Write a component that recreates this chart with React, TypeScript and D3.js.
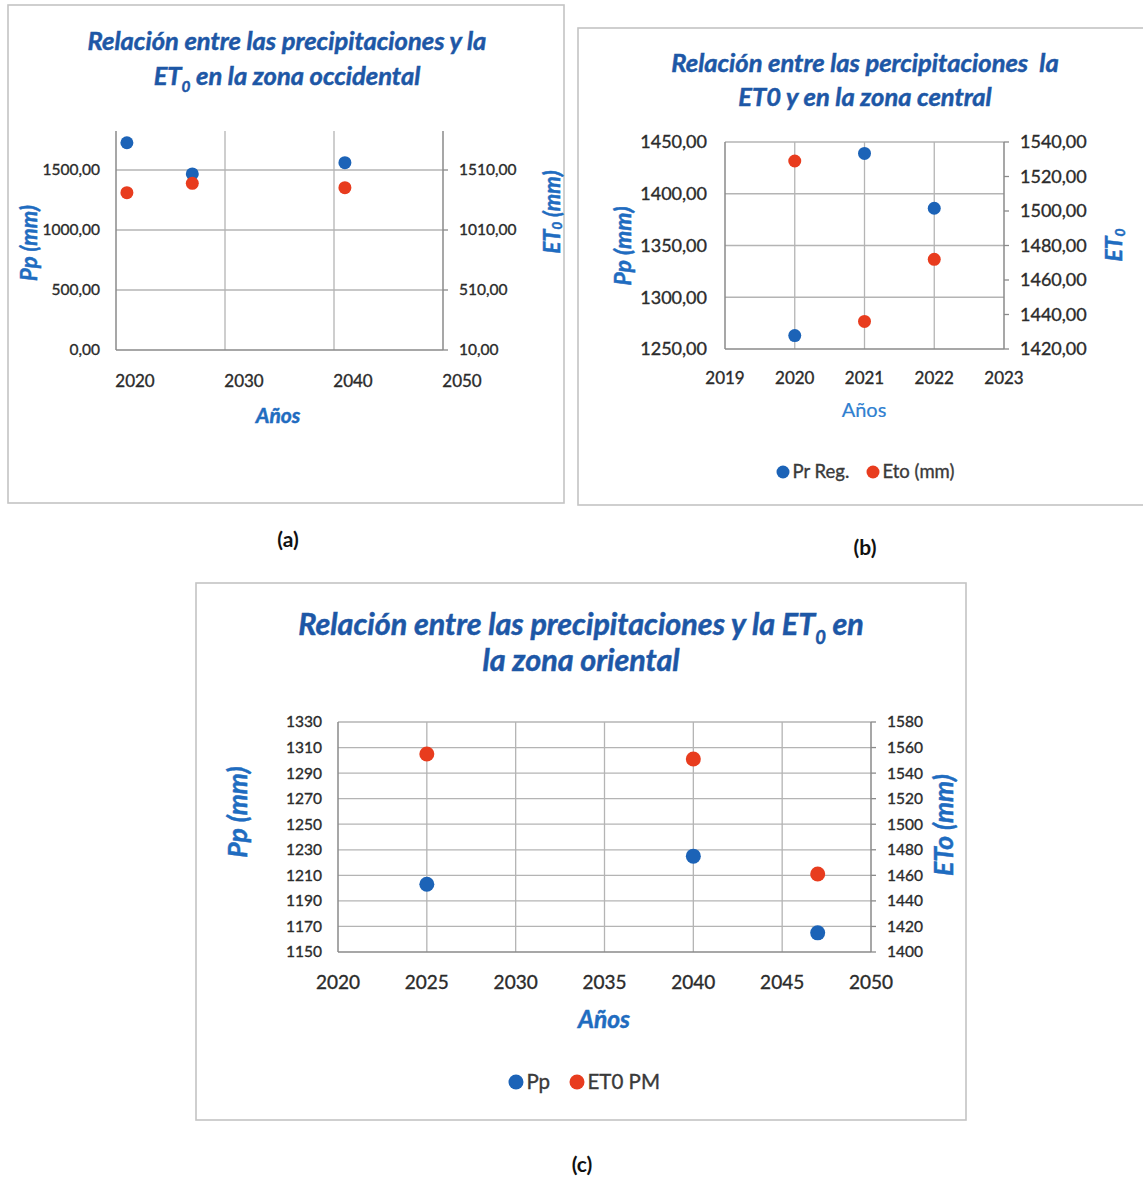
import React from 'react';
import * as d3 from 'd3';

const W = 1143;
const H = 1179;

// Zona occidental
const yearsA = [2021, 2027, 2041];
const ppA = [1727, 1467, 1561];
const etoA = [1321, 1399, 1363];
const xTicksA = [2020, 2030, 2040, 2050];
const ppTicksA = [0, 500, 1000, 1500];
const etoTicksA = [10, 510, 1010, 1510];

// Zona central
const yearsB = [2020, 2021, 2022];
const ppB = [1263, 1439, 1386];
const etoB = [1529, 1436, 1472];
const xTicksB = [2019, 2020, 2021, 2022, 2023];
const ppTicksB = [1250, 1300, 1350, 1400, 1450];
const etoTicksB = [1420, 1440, 1460, 1480, 1500, 1520, 1540];

// Zona oriental
const yearsC = [2025, 2040, 2047];
const ppC = [1203, 1225, 1165];
const etoC = [1555, 1551, 1461];
const xTicksC = [2020, 2025, 2030, 2035, 2040, 2045, 2050];
const ppTicksC = [1150, 1170, 1190, 1210, 1230, 1250, 1270, 1290, 1310, 1330];
const etoTicksC = [1400, 1420, 1440, 1460, 1480, 1500, 1520, 1540, 1560, 1580];

const BLUE = '#1c63b7';
const RED = '#e83c1e';
const TITLE = '#1d57a6';
const AXT = '#1f6cc0';
const TICK_TXT = '#2b2b2b';
const GRID = '#b4b4b4';
const AXIS = '#8a8a8a';
const FONT = "Lato, 'Open Sans', sans-serif";

const esLocale = d3.formatLocale({ decimal: ',', thousands: '.', grouping: [3], currency: ['', ' €'] });
const fmt2 = esLocale.format('.2f');
const fmtInt = d3.format('d');

type Seg = { t: string; sub?: boolean };

function Rich({ x, y, size, segs, anchor = 'middle', weight = 700, italic = true, fill = TITLE, rotate = false, heavy = 0.5 }: any) {
  const transform = rotate ? `translate(${x},${y}) rotate(-90)` : undefined;
  return (
    <text
      x={rotate ? 0 : x}
      y={rotate ? 0 : y}
      transform={transform}
      textAnchor={anchor}
      dominantBaseline={rotate ? 'central' : undefined}
      fontFamily={FONT}
      fontSize={size}
      fontWeight={weight}
      fontStyle={italic ? 'italic' : 'normal'}
      fill={fill}
      stroke={fill}
      strokeWidth={heavy}
      style={{ whiteSpace: 'pre' }}
    >
      {segs.map((s: Seg, i: number) =>
        s.sub ? (
          <tspan key={i} fontSize={size * 0.6} dy={size * 0.28}>{s.t}</tspan>
        ) : (
          <tspan key={i} dy={i > 0 && segs[i - 1].sub ? -size * 0.28 : 0}>{s.t}</tspan>
        )
      )}
    </text>
  );
}

function Panel({ c }: any) {
  const { plot } = c;
  const x = d3.scaleLinear().domain(c.xDomain).range([plot.left, plot.right]);
  const yL = d3.scaleLinear().domain(c.ppDomain).range([plot.bottom, plot.top]);
  const yR = d3.scaleLinear().domain(c.etoDomain).range([plot.bottom, plot.top]);
  const xIn = c.xTicks.filter((t: number) => t !== c.xDomain[0] && t !== c.xDomain[1]);
  const yIn = c.ppTicks.filter((t: number) => t !== c.ppDomain[0]);
  const tickText = { fontFamily: FONT, fill: TICK_TXT, stroke: TICK_TXT, strokeWidth: 0.35 };

  return (
    <g>
      <rect x={c.box[0]} y={c.box[1]} width={c.box[2]} height={c.box[3]} fill="#fff" stroke="#c4c4c4" strokeWidth={1.6} />

      {c.title.map((line: Seg[], i: number) => (
        <Rich key={i} x={c.titleX} y={c.titleY[i]} size={c.titleSize} segs={line} />
      ))}

      {/* gridlines */}
      {yIn.map((t: number) => (
        <line key={'h' + t} x1={plot.left} x2={plot.right} y1={yL(t)} y2={yL(t)} stroke={GRID} strokeWidth={1.3} />
      ))}
      {xIn.map((t: number) => (
        <line key={'v' + t} x1={x(t)} x2={x(t)} y1={plot.top} y2={plot.bottom} stroke={GRID} strokeWidth={1.3} />
      ))}

      {/* axes */}
      <line x1={plot.left} x2={plot.left} y1={plot.top} y2={plot.bottom} stroke={AXIS} strokeWidth={1.5} />
      <line x1={plot.right} x2={plot.right} y1={plot.top} y2={plot.bottom} stroke={AXIS} strokeWidth={1.5} />
      <line x1={plot.left} x2={plot.right} y1={plot.bottom} y2={plot.bottom} stroke={AXIS} strokeWidth={1.5} />
      {c.etoTicks.map((t: number) => (
        <line key={'rt' + t} x1={plot.right} x2={plot.right + 5} y1={yR(t)} y2={yR(t)} stroke={AXIS} strokeWidth={1.3} />
      ))}

      {/* tick labels */}
      {c.ppTicks.map((t: number) => (
        <text key={'lt' + t} x={c.leftLabelX} y={yL(t)} dy="0.35em" textAnchor="end" fontSize={c.tickSize} {...tickText}>
          {c.fmt(t)}
        </text>
      ))}
      {c.etoTicks.map((t: number) => (
        <text key={'rl' + t} x={c.rightLabelX} y={yR(t)} dy="0.35em" textAnchor="start" fontSize={c.tickSize} {...tickText}>
          {c.fmt(t)}
        </text>
      ))}
      {c.xTicks.map((t: number) => (
        <text key={'xt' + t} x={x(t) + c.xLabelDx} y={c.xLabelY} textAnchor="middle" fontSize={c.xTickSize} {...tickText}>
          {fmtInt(t)}
        </text>
      ))}

      {/* axis titles */}
      <Rich x={c.xTitle[0]} y={c.xTitle[1]} size={c.xTitleSize} segs={[{ t: 'Años' }]} weight={c.xTitleBold ? 700 : 400} italic={c.xTitleBold} fill={c.xTitleBold ? AXT : '#2f7fd0'} heavy={c.xTitleBold ? 0.5 : 0.2} />
      <Rich x={c.yTitleL[0]} y={c.yTitleL[1]} size={c.yTitleSize} segs={[{ t: 'Pp (mm)' }]} fill={AXT} rotate />
      <Rich x={c.yTitleR[0]} y={c.yTitleR[1]} size={c.yTitleSize} segs={c.yTitleRSegs} fill={AXT} rotate />

      {/* points */}
      {c.years.map((yr: number, i: number) => (
        <circle key={'p' + i} cx={x(yr)} cy={yL(c.pp[i])} r={c.r} fill={BLUE} />
      ))}
      {c.years.map((yr: number, i: number) => (
        <circle key={'e' + i} cx={x(yr)} cy={yR(c.eto[i])} r={c.r} fill={RED} />
      ))}

      {/* legend */}
      {c.legend &&
        c.legend.items.map((it: any, i: number) => (
          <g key={'lg' + i}>
            <circle cx={it.x} cy={c.legend.y} r={c.legend.r} fill={it.color} />
            <text x={it.x + c.legend.r + 3} y={c.legend.y} dy="0.35em" fontFamily={FONT} fontSize={c.legend.size} fill="#3a3a3a" stroke="#3a3a3a" strokeWidth={0.35}>
              {it.label}
            </text>
          </g>
        ))}

      <text x={c.caption[0]} y={c.caption[1]} textAnchor="middle" dominantBaseline="central" fontFamily={FONT} fontSize={21} fontWeight={700} fill="#111">
        {c.captionText}
      </text>
    </g>
  );
}

const panelA = {
  box: [8, 5, 556, 498],
  title: [
    [{ t: 'Relación entre las precipitaciones y la' }],
    [{ t: 'ET' }, { t: '0', sub: true }, { t: ' en la zona occidental' }],
  ],
  titleX: 287,
  titleY: [50, 85],
  titleSize: 25.5,
  plot: { left: 116, right: 443, top: 131, bottom: 350 },
  xDomain: [2020, 2050],
  ppDomain: [0, 1825],
  etoDomain: [10, 1835],
  xTicks: xTicksA,
  ppTicks: ppTicksA,
  etoTicks: etoTicksA,
  fmt: fmt2,
  tickSize: 15.5,
  xTickSize: 17,
  leftLabelX: 100,
  rightLabelX: 459,
  xLabelDx: 19,
  xLabelY: 387,
  xTitle: [278, 423],
  xTitleBold: true,
  xTitleSize: 21,
  yTitleL: [28, 243],
  yTitleR: [551, 212],
  yTitleRSegs: [{ t: 'ET' }, { t: '0', sub: true }, { t: ' (mm)' }],
  yTitleSize: 22,
  years: yearsA,
  pp: ppA,
  eto: etoA,
  r: 6.5,
  legend: null,
  caption: [288, 538],
  captionText: '(a)',
};

const panelB = {
  box: [578, 28, 580, 477],
  title: [
    [{ t: 'Relación entre las percipitaciones  la' }],
    [{ t: 'ET0 y en la zona central' }],
  ],
  titleX: 865,
  titleY: [72, 106],
  titleSize: 25.5,
  plot: { left: 725, right: 1004, top: 142, bottom: 349 },
  xDomain: [2019, 2023],
  ppDomain: [1250, 1450],
  etoDomain: [1420, 1540],
  xTicks: xTicksB,
  ppTicks: ppTicksB,
  etoTicks: etoTicksB,
  fmt: fmt2,
  tickSize: 18,
  xTickSize: 17,
  leftLabelX: 707,
  rightLabelX: 1020,
  xLabelDx: 0,
  xLabelY: 384,
  xTitle: [864, 417],
  xTitleBold: false,
  xTitleSize: 20,
  yTitleL: [622, 246],
  yTitleR: [1113, 245],
  yTitleRSegs: [{ t: 'ET' }, { t: '0', sub: true }],
  yTitleSize: 23,
  years: yearsB,
  pp: ppB,
  eto: etoB,
  r: 6.5,
  legend: {
    y: 472,
    r: 6.5,
    size: 18.5,
    items: [
      { x: 783, color: BLUE, label: 'Pr Reg.' },
      { x: 873, color: RED, label: 'Eto (mm)' },
    ],
  },
  caption: [865, 546],
  captionText: '(b)',
};

const panelC = {
  box: [196, 583, 770, 537],
  title: [
    [{ t: 'Relación entre las precipitaciones y la ET' }, { t: '0', sub: true }, { t: ' en' }],
    [{ t: 'la zona oriental' }],
  ],
  titleX: 581,
  titleY: [635, 671],
  titleSize: 30.5,
  plot: { left: 338, right: 871, top: 722, bottom: 952 },
  xDomain: [2020, 2050],
  ppDomain: [1150, 1330],
  etoDomain: [1400, 1580],
  xTicks: xTicksC,
  ppTicks: ppTicksC,
  etoTicks: etoTicksC,
  fmt: fmtInt,
  tickSize: 15.5,
  xTickSize: 19,
  leftLabelX: 322,
  rightLabelX: 887,
  xLabelDx: 0,
  xLabelY: 989,
  xTitle: [604, 1028],
  xTitleBold: true,
  xTitleSize: 24.5,
  yTitleL: [237, 812],
  yTitleR: [943, 825],
  yTitleRSegs: [{ t: 'ETo (mm)' }],
  yTitleSize: 26.5,
  years: yearsC,
  pp: ppC,
  eto: etoC,
  r: 7.5,
  legend: {
    y: 1082,
    r: 7.5,
    size: 20.5,
    items: [
      { x: 516, color: BLUE, label: 'Pp' },
      { x: 577, color: RED, label: 'ET0 PM' },
    ],
  },
  caption: [582, 1163],
  captionText: '(c)',
};

export default function App() {
  return (
    <svg width={W} height={H} viewBox={`0 0 ${W} ${H}`} style={{ position: 'absolute', left: 0, top: 0, background: '#fff' }}>
      <rect x={0} y={0} width={W} height={H} fill="#fff" />
      <Panel c={panelA} />
      <Panel c={panelB} />
      <Panel c={panelC} />
    </svg>
  );
}
